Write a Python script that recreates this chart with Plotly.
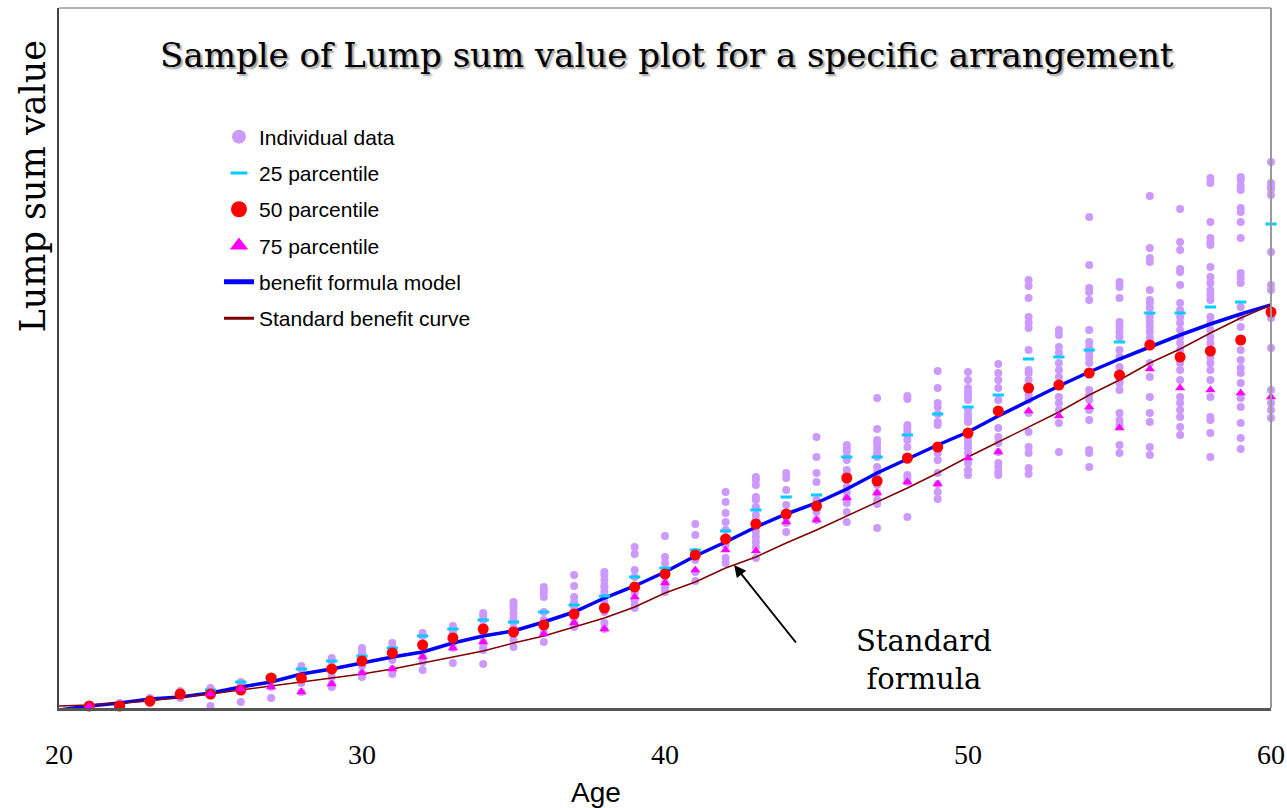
import plotly.graph_objects as go

# Ages along the x axis
ages = list(range(21, 61))
curve_ages = list(range(20, 61))

# Lump sum values of each individual member, one list per age (21..60)
individual_values = [
    [0.1, 0.3],
    [0.5, 0.2, 0.1],
    [0.5, 0.8, 1.0],
    [1.0, 1.4, 1.7],
    [0.2, 1.4, 1.8, 2.0],
    [0.6, 1.8, 2.2, 2.6],
    [1.0, 2.1, 3.0],
    [1.6, 2.5, 3.0, 3.9, 4.2],
    [2.1, 2.4, 3.1, 3.9, 4.7, 5.0],
    [3.1, 3.5, 4.2, 4.7, 5.2, 5.6, 6.0],
    [3.4, 3.9, 4.8, 5.5, 6.0, 6.5],
    [3.8, 4.6, 5.1, 6.3, 7.2, 7.5],
    [4.5, 6.0, 6.5, 7.0, 7.5, 7.9, 8.2],
    [4.4, 5.8, 6.1, 6.6, 7.5, 8.1, 8.8, 9.2, 9.5],
    [6.1, 6.8, 7.6, 8.0, 8.6, 9.0, 9.5, 10.0, 10.3, 10.6],
    [6.6, 7.5, 8.3, 8.8, 9.6, 11.1, 11.5, 11.8, 12.1],
    [8.1, 8.5, 9.1, 9.4, 10.1, 10.6, 11.1, 12.2, 13.3],
    [7.9, 8.5, 9.6, 10.1, 10.6, 11.1, 11.6, 12.0, 12.3, 12.8, 13.3, 13.6],
    [10.0, 10.3, 10.8, 11.5, 12.1, 13.1, 13.8, 15.4, 16.1],
    [11.6, 12.0, 12.5, 13.3, 13.8, 14.5, 15.1, 17.2],
    [12.7, 13.6, 14.8, 15.6, 17.3, 18.4],
    [14.5, 15.0, 16.3, 16.8, 17.8, 18.6, 19.5, 20.6, 21.6],
    [15.0, 16.1, 16.6, 17.1, 17.6, 18.1, 18.8, 19.3, 20.1, 20.8, 21.1, 22.3, 22.8, 23.1],
    [17.6, 18.5, 19.1, 20.3, 21.8, 23.0, 23.5],
    [18.8, 19.6, 20.8, 22.6, 23.5, 25.1, 27.1],
    [18.6, 19.6, 20.5, 21.0, 21.6, 22.1, 23.0, 23.5, 23.8, 24.8, 25.1, 25.7, 26.0, 26.3],
    [18.0, 20.4, 20.8, 21.5, 22.3, 22.7, 23.5, 24.1, 25.1, 25.5, 26.0, 26.5, 26.8, 27.9, 31.0],
    [19.1, 22.6, 23.0, 23.3, 24.8, 25.0, 26.1, 26.8, 27.3, 27.6, 28.0, 28.3, 30.9, 31.2],
    [20.9, 21.6, 22.4, 23.5, 24.8, 25.5, 26.1, 28.3, 28.6, 29.4, 30.1, 30.5, 32.0, 33.7],
    [23.3, 23.8, 24.5, 25.5, 26.0, 26.3, 26.8, 28.6, 29.0, 29.3, 29.8, 30.8, 31.1, 31.6, 32.0, 32.8, 33.6],
    [23.3, 23.6, 24.1, 24.5, 25.6, 26.5, 27.1, 28.0, 29.7, 30.8, 32.0, 32.8, 33.5, 34.4],
    [23.4, 24.0, 25.5, 26.1, 27.6, 29.5, 30.8, 31.3, 32.8, 33.5, 33.8, 35.8, 38.0, 38.5, 39.1, 41.0, 42.2, 42.8],
    [25.6, 28.5, 29.8, 30.5, 31.1, 33.1, 33.8, 34.5, 35.5, 36.1, 37.3, 37.8],
    [24.1, 25.5, 25.8, 28.8, 29.8, 30.8, 31.3, 31.8, 34.5, 35.0, 35.5, 36.1, 36.6, 37.8, 40.8, 41.6, 42.0, 44.3, 49.1],
    [25.5, 26.3, 28.3, 28.8, 29.5, 31.8, 32.5, 32.8, 34.1, 35.1, 35.8, 37.1, 37.6, 38.1, 38.6, 41.0, 42.1, 42.6],
    [25.3, 26.1, 28.6, 29.5, 31.1, 33.1, 34.5, 37.0, 37.6, 38.1, 38.6, 39.1, 40.0, 40.5, 40.8, 41.8, 44.6, 45.0, 46.0, 51.2],
    [27.3, 28.1, 29.1, 29.8, 30.5, 31.1, 32.8, 33.8, 34.5, 35.8, 36.5, 37.1, 37.8, 38.5, 39.1, 39.8, 40.5, 42.3,
     43.6, 43.9, 45.8, 46.6, 49.9],
    [25.1, 27.5, 28.8, 29.1, 31.1, 32.8, 33.8, 34.5, 35.1, 35.8, 36.5, 37.1, 37.8, 38.5, 39.1, 40.8, 41.3, 41.8,
     42.5, 43.1, 44.1, 46.3, 46.6, 47.0, 48.6, 52.5, 53.0],
    [25.9, 27.0, 28.5, 30.1, 31.0, 32.5, 33.5, 34.0, 34.8, 35.8, 38.1, 39.1, 40.1, 42.5, 43.0, 43.5, 47.0, 48.6,
     49.6, 50.0, 51.8, 52.2, 52.8, 53.1],
    [29.0, 29.8, 30.5, 31.8, 36.0, 39.0, 41.8, 42.3, 45.6, 51.3, 51.9, 52.2, 52.5, 54.6],
]

# Percentiles by age (21..60); None where no marker is shown
pct25 = [0.2, 0.2, 0.7, 1.4, 1.8, 2.6, 3.1, 3.9, 4.7, 5.2, 6.0, 7.2, 7.9, 8.8, 8.6, 9.6, 10.3, 11.2, 13.1, 14.0,
         15.8, 17.7, 19.8, 21.1, 21.3, 25.1, 25.1, 27.3, 29.4, 30.1, 31.3, 34.9, 35.1, 35.8, 36.6, 39.5, 39.5,
         40.1, 40.6, 48.4]
pct50 = [0.2, 0.2, 0.7, 1.4, 1.4, 1.8, 3.0, 3.0, 3.9, 4.7, 5.5, 6.3, 7.0, 7.9, 7.6, 8.3, 9.4, 10.0, 12.1, 13.4,
         15.3, 16.9, 18.4, 19.4, 20.2, 23.0, 22.7, 25.0, 26.1, 27.5, 29.7, 32.0, 32.3, 33.5, 33.3, 36.3, 35.1,
         35.7, 36.8, 39.6]
pct75 = [0.2, None, None, None, 1.4, 1.9, 2.1, 1.6, 2.4, 3.5, 3.9, 5.1, 6.0, 6.6, None, 7.4, 8.5, 7.9, 11.1, 12.5,
         13.8, 15.8, 15.7, 18.6, 18.8, 21.0, 21.5, 22.6, 22.4, 25.0, 25.6, 29.7, 29.2, 30.1, 28.0, 33.9, 32.0,
         31.8, 31.5, 31.1]

# Fitted curves by age (20..60)
model_curve = [-0.2, 0.2, 0.5, 0.9, 1.1, 1.5, 2.1, 2.6, 3.4, 3.9, 4.5, 5.1, 5.6, 6.5, 7.2, 7.7, 8.6, 9.6, 11.0,
               12.2, 13.6, 15.2, 16.6, 18.1, 19.4, 20.5, 21.9, 23.5, 24.9, 26.3, 27.6, 29.2, 30.7, 32.2, 33.6,
               34.9, 36.1, 37.3, 38.4, 39.4, 40.3]
standard_curve = [0.2, 0.3, 0.5, 0.7, 1.1, 1.4, 1.8, 2.2, 2.6, 3.0, 3.4, 3.9, 4.5, 5.1, 5.7, 6.5, 7.2, 8.1, 9.0,
                  10.1, 11.5, 12.6, 14.0, 15.1, 16.5, 17.8, 19.2, 20.6, 22.0, 23.5, 25.1, 26.6, 28.1, 29.6, 31.3,
                  32.8, 34.5, 35.9, 37.5, 39.0, 40.3]

x_ticks = [20, 30, 40, 50, 60]

PURPLE = "#CC99FF"
CYAN = "#00CCFF"
RED = "#FF0000"
MAGENTA = "#FF00FF"
BLUE = "#0000FF"
BROWN = "#800000"

ind_x = [a for a, vals in zip(ages, individual_values) for _ in vals]
ind_y = [v for vals in individual_values for v in vals]

fig = go.Figure()

# Plotted series (drawn bottom to top)
fig.add_trace(go.Scatter(x=ind_x, y=ind_y, mode="markers", showlegend=False, cliponaxis=False,
                         marker=dict(color=PURPLE, size=8)))
fig.add_trace(go.Scatter(x=curve_ages, y=model_curve, mode="lines", showlegend=False,
                         line=dict(color=BLUE, width=3.5)))
fig.add_trace(go.Scatter(x=curve_ages, y=standard_curve, mode="lines", showlegend=False,
                         line=dict(color=BROWN, width=1.5)))
fig.add_trace(go.Scatter(x=ages, y=pct25, mode="markers", showlegend=False, cliponaxis=False,
                         marker=dict(symbol="line-ew", size=8, line=dict(color=CYAN, width=3))))
fig.add_trace(go.Scatter(x=ages, y=pct50, mode="markers", showlegend=False, cliponaxis=False,
                         marker=dict(color=RED, size=11)))
fig.add_trace(go.Scatter(x=ages, y=pct75, mode="markers", showlegend=False, cliponaxis=False,
                         marker=dict(symbol="triangle-up", color=MAGENTA, size=9)))

# Legend entries with larger symbols
legend_items = [
    ("Individual data", dict(mode="markers", marker=dict(color=PURPLE, size=14))),
    ("25 parcentile", dict(mode="markers", marker=dict(symbol="line-ew", size=12, line=dict(color=CYAN, width=3)))),
    ("50 parcentile", dict(mode="markers", marker=dict(color=RED, size=16))),
    ("75 parcentile", dict(mode="markers", marker=dict(symbol="triangle-up", color=MAGENTA, size=16))),
    ("benefit formula model", dict(mode="lines", line=dict(color=BLUE, width=5))),
    ("Standard benefit curve", dict(mode="lines", line=dict(color=BROWN, width=3))),
]
for i, (name, style) in enumerate(legend_items):
    fig.add_trace(go.Scatter(x=[None], y=[None], name=name, legendgroup=f"g{i}", **style))

serif = "DejaVu Serif"

fig.update_layout(
    width=1287, height=808,
    margin=dict(l=59, r=16, t=8, b=100),
    paper_bgcolor="white", plot_bgcolor="white",
    title=dict(text="Sample of Lump sum value plot for a specific arrangement",
               font=dict(family=serif, size=34, color="black", shadow="2px 2px 2px #999999"),
               xref="paper", x=0.5015, xanchor="center",
               yref="container", y=1 - 55 / 808, yanchor="middle"),
    legend=dict(x=0.132, y=0.845, xanchor="left", yanchor="top",
                font=dict(family="Liberation Sans", size=21, color="black"),
                bgcolor="rgba(0,0,0,0)", tracegroupgap=6),
    xaxis=dict(range=[20, 60], tickvals=x_ticks, showgrid=False, zeroline=False,
               showline=True, linecolor="#555555", linewidth=3, ticks="", automargin=False,
               tickfont=dict(family="Liberation Serif", size=28, color="black"),
               ticklabelstandoff=19),
    yaxis=dict(range=[0, 70], showticklabels=False, showgrid=False, zeroline=False,
               showline=True, linecolor="#444444", linewidth=2, ticks="", automargin=False),
)

# Top and right border of the plot frame
fig.add_shape(type="line", xref="paper", yref="paper", x0=0, x1=1, y0=1, y1=1,
              line=dict(color="#999999", width=1.5))
fig.add_shape(type="line", xref="paper", yref="paper", x0=1, x1=1, y0=0, y1=1,
              line=dict(color="#999999", width=2))

# Axis titles
fig.add_annotation(text="Lump sum value", xref="paper", yref="paper", x=-0.0215, y=0.745,
                   textangle=-90, showarrow=False, xanchor="center", yanchor="middle",
                   font=dict(family=serif, size=35, color="black"))
fig.add_annotation(text="Age", xref="paper", yref="paper", x=0.443, y=-0.12,
                   showarrow=False, xanchor="center", yanchor="middle",
                   font=dict(family="Liberation Sans", size=28, color="black"))

# Callout for the standard curve
fig.add_annotation(x=42.28, y=14.3, ax=44.36, ay=6.4, axref="x", ayref="y", xref="x", yref="y",
                   text="", showarrow=True, arrowhead=2, arrowsize=1.2, arrowwidth=2, arrowcolor="black")
fig.add_annotation(x=48.55, y=4.8, xref="x", yref="y", text="Standard<br>formula", showarrow=False,
                   xanchor="center", yanchor="middle",
                   font=dict(family=serif, size=29, color="black"))

fig.write_html("out.html")
